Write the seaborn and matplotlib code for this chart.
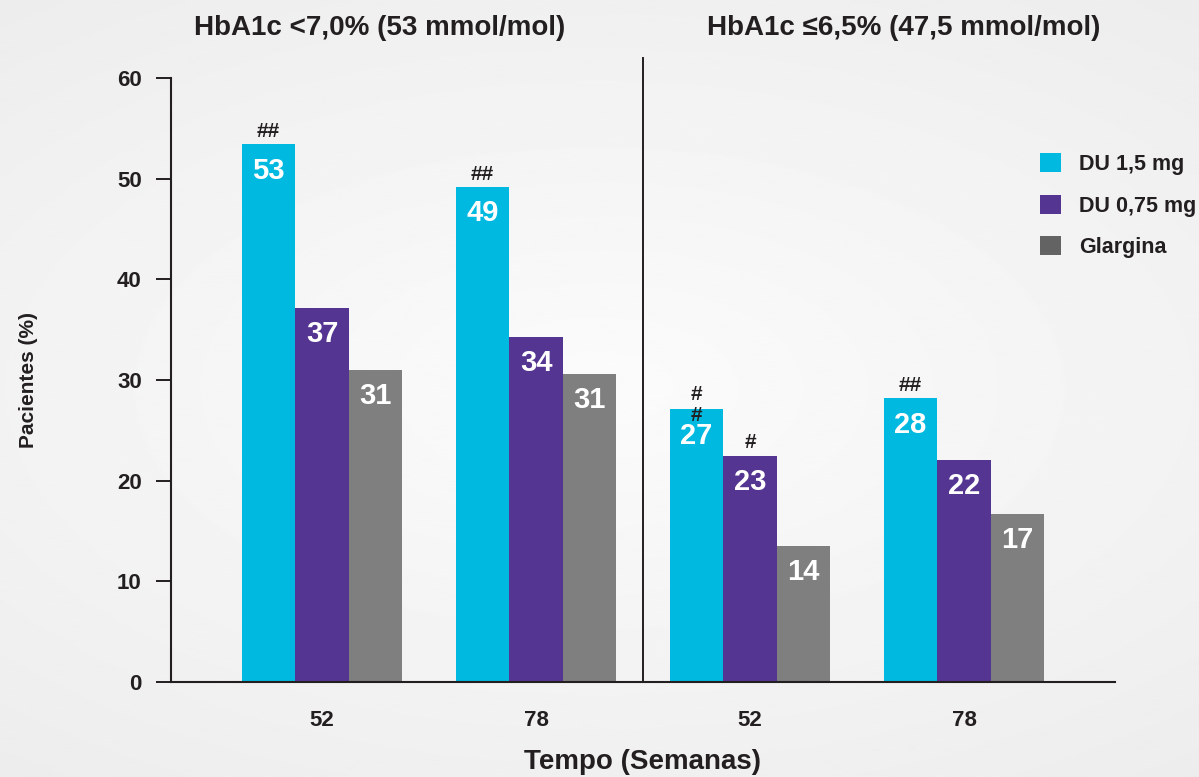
import numpy as np
import pandas as pd
import matplotlib
matplotlib.use("Agg")
import matplotlib.pyplot as plt
from matplotlib.patches import Patch
import seaborn as sns

# Data
groups = ["52 (<7,0%)", "78 (<7,0%)", "52 (≤6,5%)", "78 (≤6,5%)"]
group_labels = ["52", "78", "52", "78"]
treatments = ["DU 1,5 mg", "DU 0,75 mg", "Glargina"]
du_15 = [53.4, 49.2, 27.1, 28.2]
du_075 = [37.2, 34.3, 22.5, 22.1]
glargina = [31.0, 30.6, 13.5, 16.7]
shown_du_15 = ["53", "49", "27", "28"]
shown_du_075 = ["37", "34", "23", "22"]
shown_glargina = ["31", "31", "14", "17"]
marks_du_15 = ["##", "##", "#\n#", "##"]
marks_du_075 = ["", "", "#", ""]
marks_glargina = ["", "", "", ""]
panel_titles = ["HbA1c <7,0% (53 mmol/mol)", "HbA1c ≤6,5% (47,5 mmol/mol)"]
y_ticks = [0, 10, 20, 30, 40, 50, 60]

colors = ["#00b9e0", "#553592", "#7f7f7f"]
legend_colors = ["#00b9e0", "#553592", "#636363"]
ink = "#231f20"

df = pd.DataFrame({
    "Grupo": groups * 3,
    "Tratamento": np.repeat(treatments, len(groups)),
    "Pacientes": du_15 + du_075 + glargina,
    "Texto": shown_du_15 + shown_du_075 + shown_glargina,
    "Marca": marks_du_15 + marks_du_075 + marks_glargina,
})

plt.rcParams["font.family"] = ["Liberation Sans", "DejaVu Sans"]
plt.rcParams["font.weight"] = "bold"
plt.rcParams["text.color"] = ink

fig = plt.figure(figsize=(11.99, 7.77), dpi=100)

# soft radial background (light centre, slightly grey edges)
bg = fig.add_axes([0, 0, 1, 1], zorder=-10)
yy, xx = np.mgrid[-1:1:400j, -1:1:600j]
rr = np.sqrt((xx * 0.8) ** 2 + (yy * 1.0) ** 2)
shade = np.clip(0.985 - 0.045 * rr, 0, 1)
bg.imshow(shade, cmap="gray", vmin=0, vmax=1, aspect="auto", extent=[0, 1, 0, 1],
          interpolation="bilinear")
bg.set_axis_off()

ax = fig.add_axes([171 / 1199, 1 - 682 / 777, (1115 - 171) / 1199, (682 - 78) / 777])
ax.patch.set_alpha(0)

sns.barplot(data=df, x="Grupo", y="Pacientes", hue="Tratamento", order=groups,
            hue_order=treatments, palette=colors, width=0.75, saturation=1,
            legend=False, ax=ax)

ax.set_ylim(0, 60)
ax.set_xlim(-0.706, 3.706)
ax.set_yticks(y_ticks)
ax.set_yticklabels([str(t) for t in y_ticks], fontsize=16, fontweight="bold", color=ink)
ax.set_xticks(range(len(groups)))
ax.set_xticklabels(group_labels, fontsize=16, fontweight="bold", color=ink)
ax.tick_params(axis="x", length=0, pad=20)
ax.tick_params(axis="y", length=11, width=1.4, direction="out", pad=10, color=ink)
for s in ["top", "right"]:
    ax.spines[s].set_visible(False)
for s in ["left", "bottom"]:
    ax.spines[s].set_linewidth(1.5)
    ax.spines[s].set_color(ink)

ax.axvline(1.5, ymin=0, ymax=1.033, color=ink, lw=1.4, clip_on=False)

# value labels and significance marks
for ti, cont in enumerate(ax.containers):
    sub = df[df["Tratamento"] == treatments[ti]].set_index("Grupo").loc[groups]
    for bar, txt, mk in zip(cont, sub["Texto"], sub["Marca"]):
        cx = bar.get_x() + bar.get_width() / 2
        top = bar.get_height()
        ax.annotate(txt, (cx, top), xytext=(0, -19), textcoords="offset points",
                    ha="center", va="center", color="white", fontsize=21,
                    fontweight="bold")
        if mk:
            off = 3 if "\n" in mk else 9
            ax.annotate(mk, (cx, top), xytext=(0, off), textcoords="offset points",
                        ha="center", va="center", color=ink, fontsize=15,
                        fontweight="bold", linespacing=1.1)

ax.set_xlabel("Tempo (Semanas)", fontsize=20, fontweight="bold", labelpad=13, color=ink)
ax.set_ylabel("Pacientes (%)", fontsize=15, fontweight="bold", labelpad=57, color=ink)

for xpos, title in zip([0.27, 2.72], panel_titles):
    ax.text(xpos, 1.083, title, transform=ax.get_xaxis_transform(), ha="center",
            va="center", fontsize=20, fontweight="bold", color=ink)

handles = [Patch(facecolor=c, edgecolor="none") for c in legend_colors]
ax.legend(handles, treatments, loc="upper left", bbox_to_anchor=(1040 / 1199, 1 - 153 / 777),
          bbox_transform=fig.transFigure, frameon=False,
          prop={"weight": "bold", "size": 15.5}, handlelength=0.98, handleheight=0.98,
          handletextpad=0.85, labelspacing=0.92, borderpad=0, borderaxespad=0)

fig.savefig("out.png", dpi=100)
